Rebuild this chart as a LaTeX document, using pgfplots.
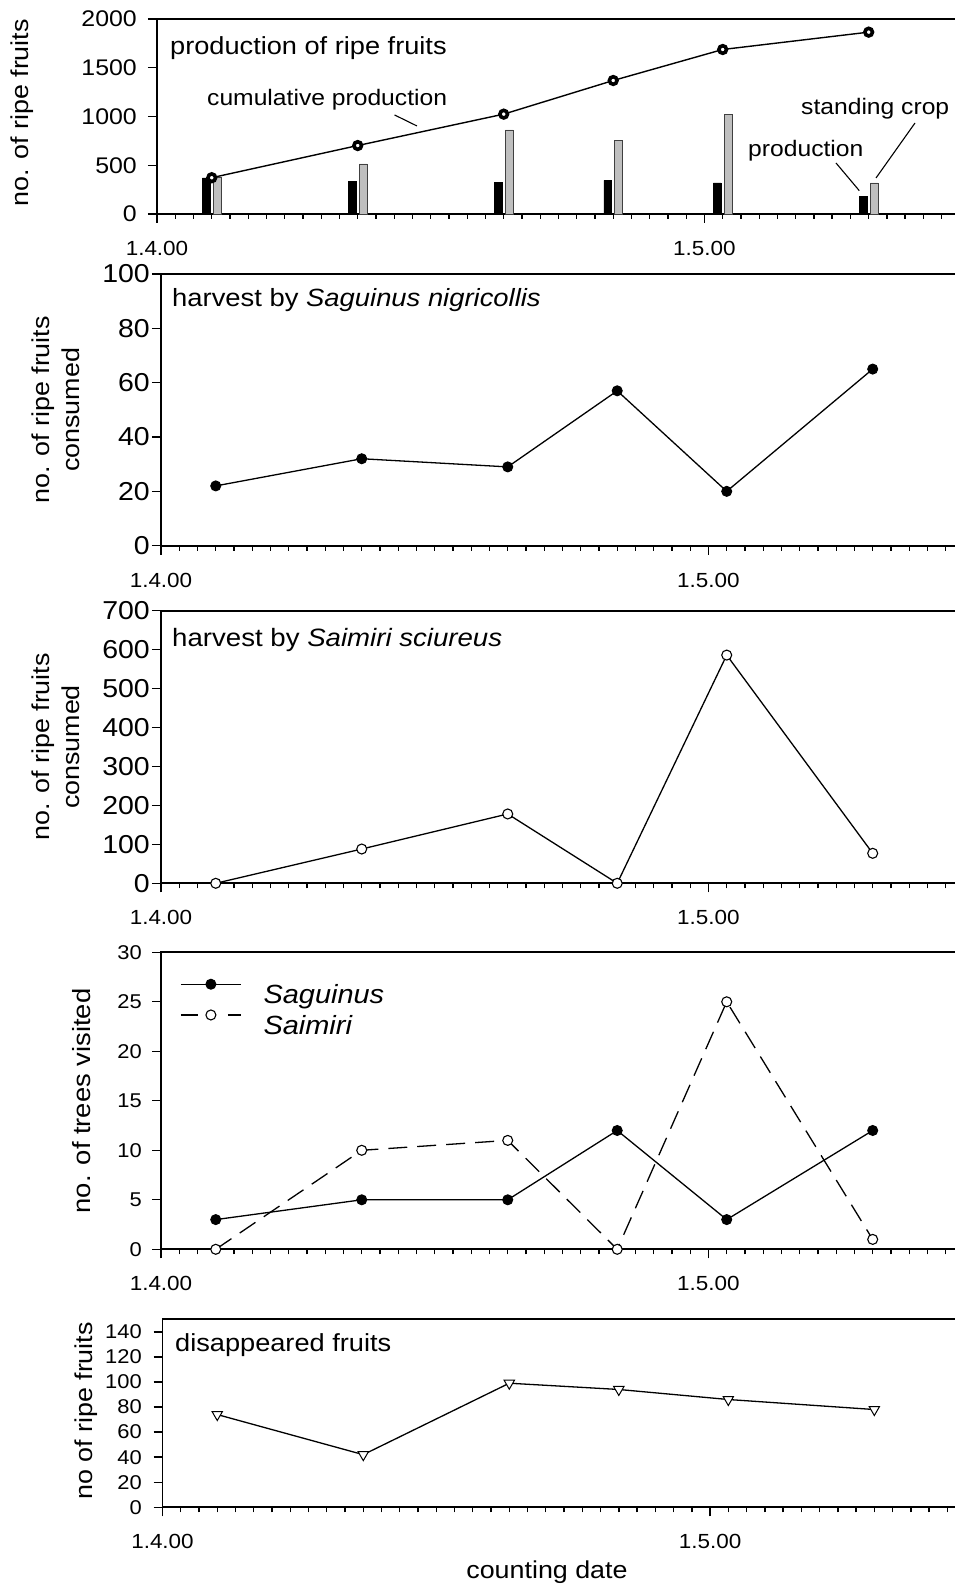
\documentclass[border=0pt]{standalone}
\usepackage{fontspec}
\setmainfont[FakeStretch=1.1]{Liberation Sans}
\usepackage{pgfplots}
\pgfplotsset{compat=1.18}
\newcommand{\fsz}[1]{\fontsize{#1}{#1}\selectfont}

\tikzset{topline/.style={line width=1.8bp, line cap=rect}}
\pgfplotsset{
  panel/.style={
    scale only axis, anchor=south west,
    xmin=0, ymin=0,
    axis x line*=bottom, axis y line*=left,
    axis line style={-, line width=1.8bp},
    tick align=outside,
    major tick length=9bp, minor tick length=5bp,
    every tick/.append style={line width=1.4bp, black},
    xtick={0,30}, xticklabels={1.4.00,1.5.00},
    minor xtick={1,...,43},
    clip=false,
    /pgf/number format/assume math mode=true,
    /pgf/number format/1000 sep={},
    xticklabel style={font=\fsz{20.5}, inner sep=0pt, yshift=-18bp},
    yticklabel style={inner sep=0pt},
  },
}

\begin{document}
\begin{tikzpicture}
\useasboundingbox (0bp,0bp) rectangle (955bp,1586bp);

% ---------- Panel 1: production ----------
\begin{axis}[panel, at={(157bp,1372bp)}, width=798bp, height=195bp,
  xmax=43.73, ymax=2000, ytick={0,500,...,2000},
  yticklabel style={font=\fsz{22.7}, xshift=-11bp}]
\addplot[ybar, bar width=7.7bp, bar shift=-5.5bp, fill=black, draw=black, line width=0.6bp]
  coordinates {(3,370) (11,332) (19,322) (25,345) (31,318) (39,180)};
\addplot[ybar, bar width=7.7bp, bar shift=5.5bp, fill=black!25, draw=black!75, line width=0.8bp]
  coordinates {(3,375) (11,513) (19,862) (25,756) (31,1019) (39,318)};
\addplot[black, line width=1.4bp, mark=*, mark size=3.8bp,
  mark options={fill=white, draw=black, line width=3.6bp, solid}]
  coordinates {(3,372) (11,702) (19,1024) (25,1369) (31,1687) (39,1865)};
\draw[topline] (rel axis cs:0,1) -- (rel axis cs:1,1);
\end{axis}

% ---------- Panel 2: Saguinus harvest ----------
\begin{axis}[panel, at={(161bp,1040.3bp)}, width=794bp, height=271.7bp,
  xmax=43.51, ymax=100, ytick={0,20,...,100},
  yticklabel style={font=\fsz{26}, xshift=-2bp}]
\addplot[black, line width=1.3bp, mark=*, mark size=5bp,
  mark options={fill=black, line width=1bp, solid}]
  coordinates {(3,22) (11,32) (19,29) (25,57) (31,20) (39,65)};
\draw[topline] (rel axis cs:0,1) -- (rel axis cs:1,1);
\end{axis}

% ---------- Panel 3: Saimiri harvest ----------
\begin{axis}[panel, at={(161bp,702.7bp)}, width=794bp, height=272.6bp,
  xmax=43.51, ymax=700, ytick={0,100,...,700},
  yticklabel style={font=\fsz{26}, xshift=-2bp}]
\addplot[black, line width=1.3bp, mark=*, mark size=5bp,
  mark options={fill=white, line width=1.1bp, solid}]
  coordinates {(3,0) (11,88) (19,178) (25,0) (31,586) (39,77)};
\draw[topline] (rel axis cs:0,1) -- (rel axis cs:1,1);
\end{axis}

% ---------- Panel 4: trees visited ----------
\begin{axis}[panel, at={(161bp,336.7bp)}, width=794bp, height=297bp,
  xmax=43.51, ymax=30, ytick={0,5,...,30},
  yticklabel style={font=\fsz{20}, xshift=-10bp},
  legend image code/.code={\draw[mark repeat=2,mark phase=2,#1] plot coordinates {(0bp,0bp) (30bp,0bp) (60bp,0bp)};},
  legend style={draw=none, fill=none, inner sep=0pt,
    at={(axis description cs:0.024,0.91)}, anchor=north west,
    font=\fsz{26.4}\itshape, row sep=5bp, column sep=22bp,
    nodes={inner sep=0pt, anchor=north west}}]
\addplot[black, line width=1.3bp, mark=*, mark size=5bp,
  mark options={fill=black, line width=1bp, solid}]
  coordinates {(3,3) (11,5) (19,5) (25,12) (31,3) (39,12)};
\addlegendentry{Saguinus}
\addplot[black, line width=1.3bp, dash pattern=on 19bp off 10bp, mark=*, mark size=5bp,
  mark options={fill=white, line width=1.1bp, solid},
  legend image post style={dash pattern=on 17bp off 30bp on 13bp off 10bp}]
  coordinates {(3,0) (11,10) (19,11) (25,0) (31,25) (39,1)};
\addlegendentry{Saimiri}
\draw[topline] (rel axis cs:0,1) -- (rel axis cs:1,1);
\end{axis}

% ---------- Panel 5: disappeared fruits ----------
\begin{axis}[panel, at={(162.5bp,78.7bp)}, width=792.5bp, height=188bp,
  xmax=43.42, ymax=150, ytick={0,20,...,140},
  yticklabel style={font=\fsz{20}, xshift=-11.5bp}]
\addplot[black, line width=1.3bp, mark=triangle*, mark size=6bp,
  mark options={rotate=180, fill=white, draw=black, line width=1bp, solid}]
  coordinates {(3,74) (11,42) (19,99) (25,94) (31,86) (39,78)};
\draw[topline] (rel axis cs:0,1) -- (rel axis cs:1,1);
\end{axis}

% ---------- titles & annotations ----------
\node[anchor=base west, inner sep=0pt] at (170bp,1531bp) {\fsz{24.8}production of ripe fruits};
\node[anchor=base west, inner sep=0pt] at (207bp,1480bp) {\fsz{22.5}cumulative production};
\draw[line width=1.1bp] (394.6bp,1471bp) -- (417bp,1460bp);
\node[anchor=base west, inner sep=0pt] at (801bp,1471bp) {\fsz{22.5}standing crop};
\draw[line width=1.1bp] (915bp,1463bp) -- (876bp,1408bp);
\node[anchor=base west, inner sep=0pt] at (748bp,1429.3bp) {\fsz{22.5}production};
\draw[line width=1.1bp] (836bp,1423bp) -- (859.3bp,1395.3bp);

\node[anchor=base west, inner sep=0pt] at (172bp,1279.5bp) {\fsz{25}harvest by \textit{Saguinus nigricollis}};
\node[anchor=base west, inner sep=0pt] at (172bp,939bp) {\fsz{25.2}harvest by \textit{Saimiri sciureus}};
\node[anchor=base west, inner sep=0pt] at (175bp,234.3bp) {\fsz{24.8}disappeared fruits};

% ---------- axis titles ----------
\node[rotate=90] at (22bp,1473bp) {\fsz{24.5}no. of ripe fruits};
\node[rotate=90, align=center, font=\fontsize{24.5}{30}\selectfont] at (56bp,1176bp) {no. of ripe fruits\\consumed};
\node[rotate=90, align=center, font=\fontsize{24.5}{30}\selectfont] at (56bp,839bp) {no. of ripe fruits\\consumed};
\node[rotate=90] at (82bp,485bp) {\fsz{25}no. of trees visited};
\node[rotate=90] at (86bp,175bp) {\fsz{24.5}no of ripe fruits};
\node at (547bp,14bp) {\fsz{24.5}counting date};
\end{tikzpicture}
\end{document}
